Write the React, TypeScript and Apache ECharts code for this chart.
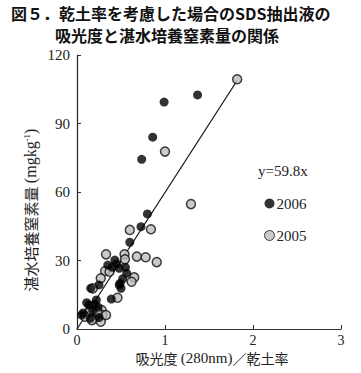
import React, { useEffect, useRef } from "react";
import * as echarts from "echarts";

const titleLines = ["図５．乾土率を考慮した場合のSDS抽出液の", "吸光度と湛水培養窒素量の関係"];
const xTicks = [0, 1, 2, 3];
const yTicks = [0, 30, 60, 90, 120];
const slope = 59.8;
const lineX = [0, 1.82];

const data2006: [number, number][] = [
  [1.37, 102.5], [0.99, 99.4], [0.86, 84], [0.735, 74.3], [0.8, 50.4], [0.727, 44.8],
  [0.6, 38], [0.43, 30.2], [0.48, 26.6], [0.565, 24.4], [0.49, 20], [0.5, 17.8],
  [0.45, 28.5], [0.52, 22], [0.4, 27], [0.39, 13.1], [0.48, 19.3], [0.25, 19.3],
  [0.156, 17.8], [0.11, 11.5], [0.22, 12.7], [0.136, 10.5], [0.24, 9.6], [0.053, 6.1],
  [0.07, 7], [0.25, 5], [0.15, 4.7], [0.2, 11], [0.18, 8], [0.55, 27], [0.35, 28],
];

const data2005: [number, number][] = [
  [1.82, 109.4], [1.0, 77.7], [1.295, 54.7], [0.6, 43.4], [0.84, 43.7], [0.33, 32.7],
  [0.54, 32.7], [0.545, 30.5], [0.68, 31.7], [0.78, 31.4], [0.906, 29.3], [0.65, 22.6],
  [0.62, 20.7], [0.32, 25.4], [0.37, 25.1], [0.27, 22.2], [0.18, 17.8], [0.46, 13.7],
  [0.17, 9.5], [0.14, 7.6], [0.28, 8.3], [0.29, 6.1], [0.2, 4.7], [0.27, 3.2],
  [0.09, 5.4], [0.23, 7.6], [0.17, 3.9], [0.33, 6.1],
];

const SERIF = "'Liberation Serif', 'DejaVu Serif', serif";
const CJK = "'Noto Sans CJK JP', sans-serif";

export default function App() {
  const ref = useRef<HTMLDivElement>(null);
  useEffect(() => {
    if (!ref.current) return;
    const chart = echarts.init(ref.current, null, { renderer: "svg" });
    chart.setOption({
      animation: false,
      backgroundColor: "#fff",
      grid: { left: 77, right: 20, top: 55, bottom: 44 },
      xAxis: {
        type: "value",
        min: xTicks[0],
        max: xTicks[xTicks.length - 1],
        interval: 1,
        axisLine: { lineStyle: { color: "#333", width: 1 } },
        axisTick: { inside: true, length: 4, lineStyle: { color: "#333" } },
        splitLine: { show: false },
        axisLabel: { color: "#222", fontFamily: SERIF, fontSize: 14, margin: 4 },
      },
      yAxis: {
        type: "value",
        min: yTicks[0],
        max: yTicks[yTicks.length - 1],
        interval: 30,
        axisLine: { show: true, lineStyle: { color: "#222", width: 1.2 } },
        axisTick: { show: true, inside: true, length: 4, lineStyle: { color: "#333" } },
        splitLine: { show: false },
        axisLabel: { color: "#222", fontFamily: SERIF, fontSize: 15, margin: 7 },
      },
      legend: {
        orient: "vertical",
        left: 259,
        top: 191,
        itemGap: 17,
        itemWidth: 10,
        itemHeight: 10,
        textStyle: { fontFamily: SERIF, fontSize: 15, color: "#222", padding: [0, 0, 0, -3] },
        data: [
          { name: "2006", icon: "circle", itemStyle: { color: "#000", borderWidth: 0 } },
          { name: "2005", icon: "circle", itemStyle: { color: "#bdbdbd", borderColor: "#111", borderWidth: 1 } },
        ],
      },
      graphic: [
        {
          type: "text",
          left: 11,
          top: 5,
          style: { text: titleLines[0], font: `bold 16px ${CJK}`, fill: "#111" },
        },
        {
          type: "text",
          left: 55,
          top: 27,
          style: { text: titleLines[1], font: `bold 16px ${CJK}`, fill: "#111" },
        },
        {
          type: "text",
          left: 258,
          top: 163,
          style: { text: `y=${slope}x`, font: `15px ${SERIF}`, fill: "#222" },
        },
        {
          type: "text",
          x: 30,
          y: 210,
          rotation: Math.PI / 2,
          style: {
            text: "{a|湛水培養窒素量} {b|(mgkg}{s|-1}{b|)}",
            align: "center",
            verticalAlign: "middle",
            fill: "#222",
            rich: {
              a: { fontFamily: CJK, fontSize: 15, fill: "#222" },
              b: { fontFamily: SERIF, fontSize: 16, fill: "#222" },
              s: { fontFamily: SERIF, fontSize: 9, fill: "#222", verticalAlign: "top", padding: [0, 0, 6, 0] },
            },
          },
        },
        {
          type: "text",
          x: 212,
          y: 358,
          style: {
            text: "{a|吸光度} {b|(280nm)}{a|／乾土率}",
            align: "center",
            verticalAlign: "middle",
            fill: "#222",
            rich: {
              a: { fontFamily: CJK, fontSize: 14, fill: "#222" },
              b: { fontFamily: SERIF, fontSize: 15, fill: "#222" },
            },
          },
        },
      ],
      series: [
        {
          type: "line",
          name: "fit",
          data: lineX.map((x) => [x, slope * x]),
          showSymbol: false,
          symbol: "none",
          lineStyle: { color: "#111", width: 1.2 },
          z: 1,
        },
        {
          type: "scatter",
          name: "2005",
          data: data2005,
          symbolSize: 9,
          itemStyle: { color: "#bdbdbd", borderColor: "#111", borderWidth: 1.5 },
          z: 2,
        },
        {
          type: "scatter",
          name: "2006",
          data: data2006,
          symbolSize: 9,
          itemStyle: { color: "#000" },
          z: 3,
        },
      ],
    });
    return () => chart.dispose();
  }, []);
  return (
    <div
      ref={ref}
      style={{ position: "fixed", left: 0, top: 0, width: 361, height: 373 }}
    />
  );
}
